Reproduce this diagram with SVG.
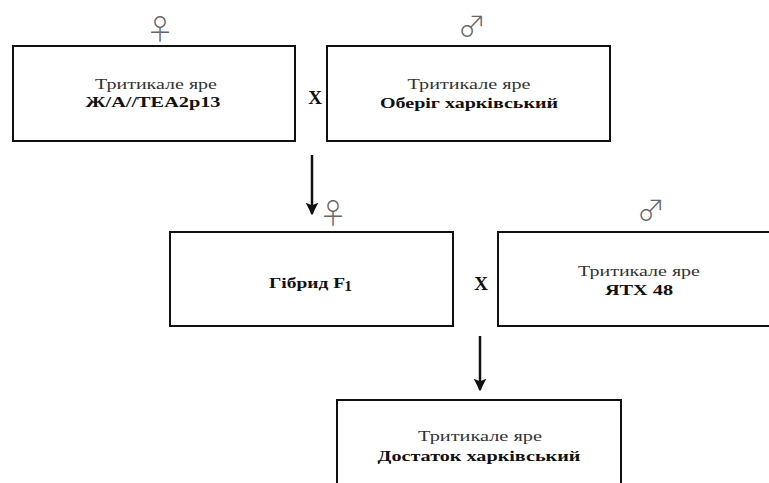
<svg xmlns="http://www.w3.org/2000/svg" width="769" height="483" viewBox="0 0 769 483">
<style>
.box{fill:#fff;stroke:#111;stroke-width:2}
.t{font-family:"Liberation Serif","Times New Roman",serif;font-size:15px;fill:#333;text-anchor:middle}
.b{font-family:"Liberation Serif","Times New Roman",serif;font-size:15.5px;font-weight:bold;fill:#111;text-anchor:middle}
.x{font-family:"Liberation Serif","Times New Roman",serif;font-size:19px;font-weight:bold;fill:#111;text-anchor:middle}
.sym{font-family:"Noto Sans CJK JP","DejaVu Sans",sans-serif;font-weight:300;font-size:28px;fill:#666;text-anchor:middle}
.arr{stroke:#111;stroke-width:2.5;fill:none}
</style>
<defs>
<marker id="ah" viewBox="0 0 10 10" refX="9" refY="5" markerWidth="5" markerHeight="5" orient="auto" markerUnits="strokeWidth">
<path d="M0,0 L10,5 L0,10 L2,5 Z" fill="#111"/>
</marker>
</defs>
<g id="connectors">
<line class="arr" x1="312" y1="155" x2="312" y2="214" marker-end="url(#ah)"/>
<line class="arr" x1="480" y1="336" x2="480" y2="390" marker-end="url(#ah)"/>
</g>
<g id="symbols">
<text class="sym" x="160" y="40">♀</text>
<text class="sym" x="472" y="37">♂</text>
<text class="sym" x="333" y="224">♀</text>
<text class="sym" x="651" y="221">♂</text>
<text class="x" x="315" y="104">X</text>
<text class="x" x="481" y="290">X</text>
</g>
<g id="node1">
<rect class="box" x="13" y="46" width="282" height="95"/>
<text class="t" x="156" y="89" textLength="122" lengthAdjust="spacingAndGlyphs">Тритикале яре</text>
<text class="b" x="153" y="107" textLength="135" lengthAdjust="spacingAndGlyphs">Ж/А//TEA2p13</text>
</g>
<g id="node2">
<rect class="box" x="327" y="46" width="283" height="95"/>
<text class="t" x="469" y="89" textLength="123" lengthAdjust="spacingAndGlyphs">Тритикале яре</text>
<text class="b" x="469" y="108" textLength="178" lengthAdjust="spacingAndGlyphs">Оберіг харківський</text>
</g>
<g id="node3">
<rect class="box" x="170" y="232" width="283" height="94"/>
<text class="b" x="307" y="288" textLength="76" lengthAdjust="spacingAndGlyphs">Гібрид F</text>
<text class="b" x="348" y="291" font-size="10">1</text>
</g>
<g id="node4">
<rect class="box" x="498" y="232" width="282" height="94"/>
<text class="t" x="639" y="276" textLength="122" lengthAdjust="spacingAndGlyphs">Тритикале яре</text>
<text class="b" x="639" y="295" textLength="68" lengthAdjust="spacingAndGlyphs">ЯТХ 48</text>
</g>
<g id="node5">
<rect class="box" x="337" y="400" width="284" height="100"/>
<text class="t" x="480" y="441" textLength="124" lengthAdjust="spacingAndGlyphs">Тритикале яре</text>
<text class="b" x="479" y="461" textLength="203" lengthAdjust="spacingAndGlyphs">Достаток харківський</text>
</g>
</svg>
